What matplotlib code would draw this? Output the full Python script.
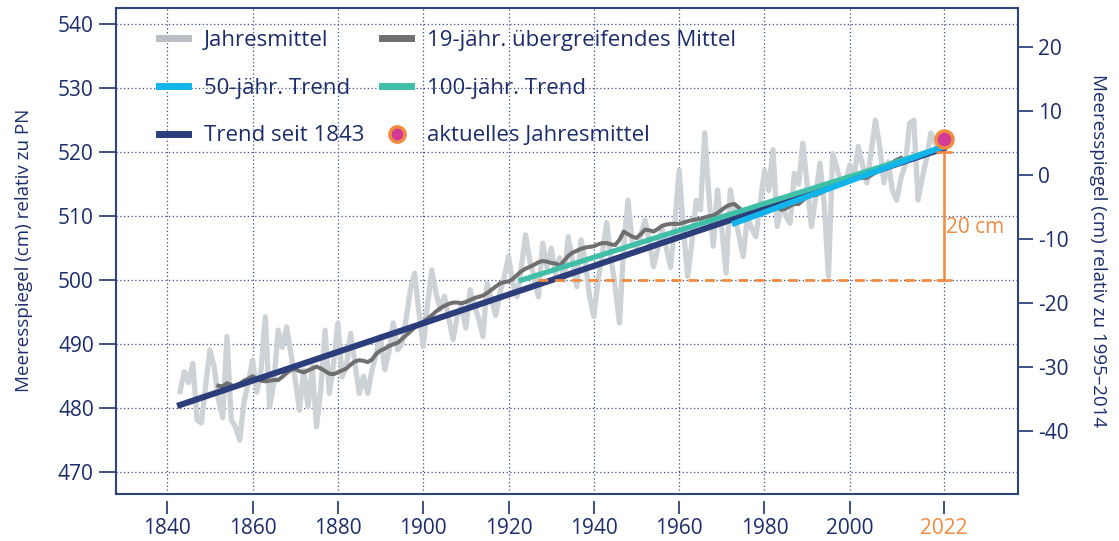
import numpy as np
import matplotlib
matplotlib.use('Agg')
import matplotlib.pyplot as plt
from matplotlib.lines import Line2D

plt.rcParams['font.family'] = ['Open Sans', 'DejaVu Sans']

# Jahresmittel 1843-2022 (cm relativ zu PN)
years = np.arange(1843, 2023)
annual = [
    482.6, 485.7, 484.0, 487.0, 478.2, 477.7, 483.5, 489.1, 486.5, 481.3,
    478.5, 491.2, 478.2, 477.1, 475.0, 481.0, 484.0, 487.5, 482.5, 486.0,
    494.3, 480.2, 484.0, 492.2, 489.5, 492.7, 488.5, 484.5, 479.7, 486.0,
    480.2, 486.5, 477.1, 483.0, 492.2, 482.3, 487.0, 493.3, 484.9, 486.5,
    491.7, 487.0, 482.3, 485.0, 482.3, 486.0, 488.5, 491.2, 486.0, 489.0,
    493.3, 489.1, 490.0, 494.0, 498.5, 501.1, 495.0, 489.6, 496.0, 501.6,
    498.0, 495.4, 497.5, 494.0, 490.7, 494.5, 496.0, 492.5, 498.5, 496.0,
    494.0, 491.2, 499.5, 497.0, 494.5, 498.0, 500.5, 503.7, 499.5, 497.4,
    502.0, 507.1, 503.0, 500.5, 497.4, 505.8, 502.0, 505.0, 501.0, 503.5,
    500.0, 506.8, 503.0, 499.0, 506.3, 503.0, 497.4, 494.3, 500.0, 504.0,
    509.0, 503.5, 499.0, 493.3, 505.0, 512.5, 506.0, 505.2, 507.0, 509.4,
    506.0, 502.1, 505.0, 508.0, 505.0, 502.0, 509.0, 517.2, 508.0, 500.6,
    506.0, 512.5, 511.0, 523.0, 513.0, 505.3, 514.1, 508.0, 501.1, 514.1,
    510.0, 507.0, 503.7, 510.0, 508.0, 506.8, 512.0, 517.2, 514.0, 520.4,
    508.4, 512.0, 510.0, 508.9, 516.7, 515.0, 521.4, 515.0, 508.4, 513.0,
    518.3, 512.0, 500.6, 519.8, 517.5, 515.0, 515.2, 518.0, 516.0, 520.9,
    518.0, 515.2, 520.0, 525.0, 521.0, 515.2, 518.5, 514.0, 512.5, 516.0,
    518.0, 524.5, 525.0, 512.5, 516.0, 519.0, 523.0, 521.5, 520.0, 522.0,
]

# 19-jaehrig uebergreifendes Mittel 1852-2012
mean_years = np.arange(1852, 2013)
mean19 = [
    483.5, 483.4, 483.9, 483.6, 483.3, 483.8, 484.3, 484.6, 485.0, 484.6,
    484.3, 484.2, 484.3, 484.4, 484.4, 484.9, 485.5, 486.0, 486.1, 485.8,
    485.6, 485.9, 486.2, 486.5, 486.2, 485.8, 485.4, 485.3, 485.6, 485.9,
    486.2, 486.8, 487.3, 487.5, 487.4, 487.2, 487.6, 488.5, 489.0, 489.3,
    489.7, 490.0, 490.2, 490.8, 491.4, 492.0, 492.6, 493.1, 493.5, 494.0,
    494.5, 495.1, 495.6, 496.0, 496.3, 496.5, 496.5, 496.4, 496.6, 496.9,
    497.2, 497.4, 497.6, 498.0, 498.5, 499.0, 499.5, 499.7, 499.8, 500.2,
    500.8, 501.4, 501.8, 502.1, 502.4, 502.8, 503.0, 502.9, 502.7, 502.6,
    502.3, 503.0, 503.8, 504.3, 504.6, 504.9, 505.1, 505.2, 505.3, 505.6,
    505.8, 505.8, 505.6, 505.5, 506.3, 507.6, 507.2, 506.8, 506.6, 507.2,
    507.9, 507.8, 507.6, 508.0, 508.5, 508.7, 508.8, 508.8, 508.8, 509.0,
    509.2, 509.4, 509.5, 509.6, 509.8, 510.0, 510.1, 510.5, 511.0, 511.5,
    511.8, 511.9, 511.3, 510.8, 510.3, 510.1, 510.5, 510.9, 511.2, 511.1,
    511.3, 511.4, 511.0, 511.2, 511.6, 511.9, 511.9, 512.5, 513.0, 513.4,
    513.3, 513.6, 514.0, 514.5, 514.8, 515.0, 515.3, 515.5, 515.6, 515.8,
    516.0, 516.0, 516.0, 516.4, 516.8, 517.2, 517.6, 518.0, 518.4, 518.8,
    519.1,
]

# Trendlinien (Start-/Endjahr, Start-/Endwert)
trend_1843_x = [1843, 2022]
trend_1843_y = [480.5, 520.6]
trend_100_x = [1923, 2022]
trend_100_y = [500.0, 520.8]
trend_50_x = [1973, 2022]
trend_50_y = [508.9, 520.9]

current_year = 2022
current_value = 522.0

# 20-cm-Markierung
ref_start = 1927
ref_low, ref_high = 500, 520

offset_1995_2014 = 516.5

xticks = [1840, 1860, 1880, 1900, 1920, 1940, 1960, 1980, 2000, 2022]
yticks = [470, 480, 490, 500, 510, 520, 530, 540]
yticks_right = [-40, -30, -20, -10, 0, 10, 20]

navy = '#1b2d6b'
orange = '#f28a3f'
frame_col = '#2e4379'

fig = plt.figure(figsize=(11.19, 5.41), dpi=100)
ax = fig.add_axes([0.1037, 0.087, 0.8063, 0.899])

ax.plot(years, annual, color='#cdd2d6', lw=3.8, solid_joinstyle='round', zorder=2)
ax.plot(mean_years, mean19, color='#6f6f6f', lw=2.9, zorder=3)
ax.plot(trend_1843_x, trend_1843_y, color='#2b3d7b', lw=4.4, zorder=4)
ax.plot(trend_100_x, trend_100_y, color='#40bfa8', lw=3.8, zorder=5)
ax.plot(trend_50_x, trend_50_y, color='#12b5ea', lw=4.2, zorder=6)

# 20 cm Markierung
ax.plot([ref_start, current_year], [ref_low, ref_low], color=orange, lw=2,
        ls=(0, (3.5, 2.5)), zorder=7)
ax.plot([current_year, current_year], [ref_low, ref_high], color=orange, lw=1.8,
        marker='_', ms=11, mew=1.8, zorder=7)
ax.text(current_year + 0.6, 508.3, '20 cm', color=orange,
        fontsize=15, va='center', ha='left')

ax.scatter([current_year], [current_value], s=150, color='#d23b95',
           edgecolor='#f28a3f', linewidth=2.5, zorder=9)

ax.set_xlim(1828, 2039.5)
ax.set_ylim(466.6, 542.6)
ax.set_xticks(xticks)
ax.set_yticks(yticks)
ax.grid(True, color='#3a4f8a', ls=(0, (1, 2)), lw=0.9)
ax.set_axisbelow(True)

for s in ['left', 'top', 'right']:
    ax.spines[s].set_color(frame_col)
    ax.spines[s].set_linewidth(1.5)
ax.spines['bottom'].set_position(('outward', 5))
ax.spines['bottom'].set_visible(False)
ax.plot([0, 1], [0, 0], transform=ax.transAxes, color=frame_col, lw=1.5,
        clip_on=False, zorder=10)

ax.tick_params(axis='y', direction='out', length=12, width=1.3, color=frame_col,
               labelcolor=navy, labelsize=15, pad=4)
ax.tick_params(axis='x', direction='out', length=9, width=1.3, color=frame_col,
               labelcolor=navy, labelsize=15, pad=3)
ax.get_xticklabels()[-1].set_color(orange)
ax.set_ylabel('Meeresspiegel (cm) relativ zu PN', color=navy, fontsize=13.5,
              labelpad=18)

ax2 = ax.twinx()
ax2.set_ylim(466.6 - offset_1995_2014, 542.6 - offset_1995_2014)
ax2.set_yticks(yticks_right)
ax2.set_yticklabels([str(v) for v in yticks_right])
for s in ax2.spines.values():
    s.set_visible(False)
ax2.tick_params(axis='y', direction='out', length=11, width=1.3, color=frame_col,
                labelcolor=navy, labelsize=15, pad=3)
ax2.set_ylabel('Meeresspiegel (cm) relativ zu 1995–2014', color=navy,
               fontsize=13.5, rotation=270, labelpad=28)

# Legende
handles = [
    Line2D([], [], color='#b9bfc3', lw=5),
    Line2D([], [], color='#12b5ea', lw=5),
    Line2D([], [], color='#2b3d7b', lw=5),
    Line2D([], [], color='#6f6f6f', lw=5),
    Line2D([], [], color='#40bfa8', lw=5),
    Line2D([], [], ls='none', marker='o', ms=11, markerfacecolor='#d23b95',
           markeredgecolor='#f28a3f', markeredgewidth=2.5),
]
labels = ['Jahresmittel', '50-jähr. Trend', 'Trend seit 1843',
          '19-jähr. übergreifendes Mittel', '100-jähr. Trend',
          'aktuelles Jahresmittel']
leg = ax.legend(handles, labels, ncol=2, loc='upper left',
                bbox_to_anchor=(0.026, 0.995), frameon=False, fontsize=16,
                handlelength=1.3, handletextpad=0.7, labelspacing=1.2,
                columnspacing=0.8)
for t in leg.get_texts():
    t.set_color(navy)

fig.savefig('out.png', dpi=100)
